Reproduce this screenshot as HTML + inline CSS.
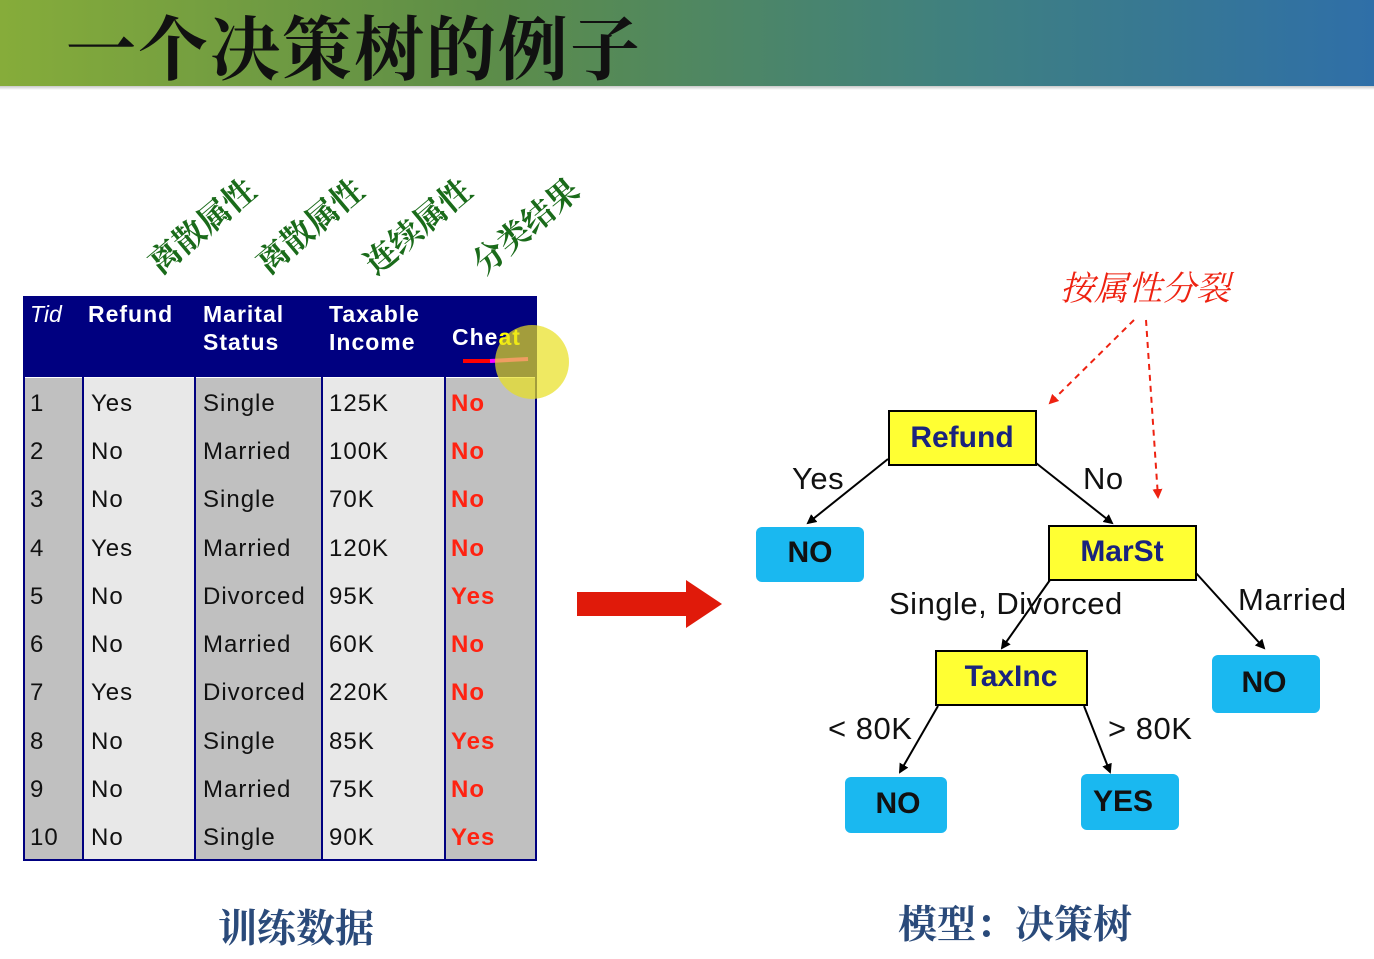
<!DOCTYPE html><html><head><meta charset="utf-8"><style>
body{margin:0;width:1374px;height:959px;background:#fff;position:relative;overflow:hidden;font-family:"Liberation Sans","Noto Sans CJK SC",sans-serif}
.hdr{position:absolute;left:0;top:0;width:1374px;height:86px;background:linear-gradient(90deg,#86ac3a 0%,#5d8d48 35%,#3f8080 70%,#2f6fa8 100%)}
.hdr:after{content:"";position:absolute;left:0;top:86px;width:1374px;height:4px;background:linear-gradient(#c8c8c8,#fff)}
.t{position:absolute;white-space:nowrap}
</style></head><body>
<div class="hdr"></div>
<div class="t" style="left:66px;top:-6px;font-family:'Noto Serif CJK SC',serif;font-size:70px;font-weight:bold;color:#111;letter-spacing:2px">一个决策树的例子</div>
<svg width="1374" height="959" style="position:absolute;left:0;top:0" font-family="Liberation Sans, Noto Sans CJK SC, sans-serif">
<defs><marker id="a" markerWidth="10" markerHeight="10" refX="8" refY="5" orient="auto" markerUnits="userSpaceOnUse"><path d="M0,0 L10,5 L0,10 z" fill="#000"/></marker>
<marker id="r" markerWidth="10" markerHeight="10" refX="8" refY="5" orient="auto" markerUnits="userSpaceOnUse"><path d="M0,0 L10,5 L0,10 z" fill="#e21"/></marker></defs>
<g font-family="Noto Serif CJK SC, serif" font-size="32" fill="#1a6b1a" font-weight="bold">
<text transform="translate(160,276) rotate(-40)">离散属性</text>
<text transform="translate(268,276) rotate(-40)">离散属性</text>
<text transform="translate(376,276) rotate(-40)">连续属性</text>
<text transform="translate(484,276) rotate(-40)">分类结果</text>
</g>
<rect x="24" y="378" width="59" height="482" fill="#c0c0c0"/>
<rect x="83" y="378" width="112" height="482" fill="#e8e8e8"/>
<rect x="195" y="378" width="127" height="482" fill="#c0c0c0"/>
<rect x="322" y="378" width="123" height="482" fill="#e8e8e8"/>
<rect x="445" y="378" width="91" height="482" fill="#c0c0c0"/>
<rect x="24" y="297" width="512" height="80" fill="#000080"/>
<g stroke="#000080" stroke-width="2"><line x1="83" y1="377" x2="83" y2="860"/><line x1="195" y1="377" x2="195" y2="860"/><line x1="322" y1="377" x2="322" y2="860"/><line x1="445" y1="377" x2="445" y2="860"/></g>
<rect x="24" y="297" width="512" height="563" fill="none" stroke="#000080" stroke-width="2"/>
<g fill="#fff" font-size="23" font-weight="bold" letter-spacing="1">
<text x="30" y="322" font-style="italic" font-weight="normal" letter-spacing="0">Tid</text>
<text x="88" y="322">Refund</text>
<text x="203" y="322">Marital</text><text x="203" y="350">Status</text>
<text x="329" y="322">Taxable</text><text x="329" y="350">Income</text>
<text x="452" y="345">Che<tspan fill="#ff0">at</tspan></text>
</g>
<line x1="463" y1="361" x2="490" y2="361" stroke="#f00" stroke-width="4"/><line x1="490" y1="361" x2="528" y2="359" stroke="#f0f" stroke-width="4"/>
<circle cx="532" cy="362" r="37" fill="#e8e020" opacity=".7"/>
<g font-size="24" fill="#111" letter-spacing="1">
<text x="30" y="411">1</text><text x="91" y="411">Yes</text><text x="203" y="411">Single</text><text x="329" y="411">125K</text>
<text x="30" y="459">2</text><text x="91" y="459">No</text><text x="203" y="459">Married</text><text x="329" y="459">100K</text>
<text x="30" y="507">3</text><text x="91" y="507">No</text><text x="203" y="507">Single</text><text x="329" y="507">70K</text>
<text x="30" y="556">4</text><text x="91" y="556">Yes</text><text x="203" y="556">Married</text><text x="329" y="556">120K</text>
<text x="30" y="604">5</text><text x="91" y="604">No</text><text x="203" y="604">Divorced</text><text x="329" y="604">95K</text>
<text x="30" y="652">6</text><text x="91" y="652">No</text><text x="203" y="652">Married</text><text x="329" y="652">60K</text>
<text x="30" y="700">7</text><text x="91" y="700">Yes</text><text x="203" y="700">Divorced</text><text x="329" y="700">220K</text>
<text x="30" y="749">8</text><text x="91" y="749">No</text><text x="203" y="749">Single</text><text x="329" y="749">85K</text>
<text x="30" y="797">9</text><text x="91" y="797">No</text><text x="203" y="797">Married</text><text x="329" y="797">75K</text>
<text x="30" y="845">10</text><text x="91" y="845">No</text><text x="203" y="845">Single</text><text x="329" y="845">90K</text>
</g>
<g font-size="24" fill="#f21" font-weight="bold" letter-spacing="1">
<text x="451" y="411">No</text><text x="451" y="459">No</text><text x="451" y="507">No</text><text x="451" y="556">No</text><text x="451" y="604">Yes</text><text x="451" y="652">No</text><text x="451" y="700">No</text><text x="451" y="749">Yes</text><text x="451" y="797">No</text><text x="451" y="845">Yes</text>
</g>
<path d="M577,592 H686 V580 L722,604 L686,628 V616 H577 z" fill="#e01a0a"/>
<g stroke="#000" stroke-width="2" fill="none" marker-end="url(#a)">
<line x1="888" y1="459" x2="808" y2="523"/>
<line x1="1036" y1="463" x2="1112" y2="523"/>
<line x1="1050" y1="580" x2="1002" y2="648"/>
<line x1="1196" y1="573" x2="1264" y2="648"/>
<line x1="938" y1="706" x2="900" y2="772"/>
<line x1="1084" y1="706" x2="1110" y2="772"/>
</g>
<g stroke="#e21" stroke-width="2" stroke-dasharray="6,5" fill="none" marker-end="url(#r)">
<line x1="1134" y1="320" x2="1050" y2="403"/>
<line x1="1146" y1="320" x2="1158" y2="497"/>
</g>
<text x="1060" y="300" font-family="Noto Serif CJK SC, serif" font-size="34" font-style="italic" fill="#e21">按属性分裂</text>
<g stroke="#000" stroke-width="2" fill="#ffff33">
<rect x="889" y="411" width="147" height="54"/><rect x="1049" y="526" width="147" height="54"/><rect x="936" y="651" width="151" height="54"/>
</g>
<g fill="#1ab8f0"><rect x="756" y="527" width="108" height="55" rx="6"/><rect x="1212" y="655" width="108" height="58" rx="6"/><rect x="845" y="777" width="102" height="56" rx="6"/><rect x="1081" y="774" width="98" height="56" rx="6"/></g>
<g font-size="30" font-weight="bold" fill="#111" text-anchor="middle">
<text x="962" y="447" fill="#1a237e">Refund</text><text x="1122" y="561" fill="#1a237e">MarSt</text><text x="1011" y="686" fill="#1a237e">TaxInc</text>
<text x="810" y="562">NO</text><text x="1264" y="692">NO</text><text x="898" y="813">NO</text><text x="1123" y="811">YES</text>
</g>
<g font-size="31" fill="#111" letter-spacing="0.5">
<text x="792" y="489">Yes</text><text x="1083" y="489">No</text><text x="889" y="614">Single, Divorced</text><text x="1238" y="610">Married</text>
<text x="828" y="739">&lt; 80K</text><text x="1108" y="739">&gt; 80K</text>
</g>
<g font-family="Noto Serif CJK SC, serif" font-size="39" font-weight="bold" fill="#2a4a7a">
<text x="218" y="942">训练数据</text><text x="898" y="938">模型：决策树</text>
</g>
</svg>
</body></html>
